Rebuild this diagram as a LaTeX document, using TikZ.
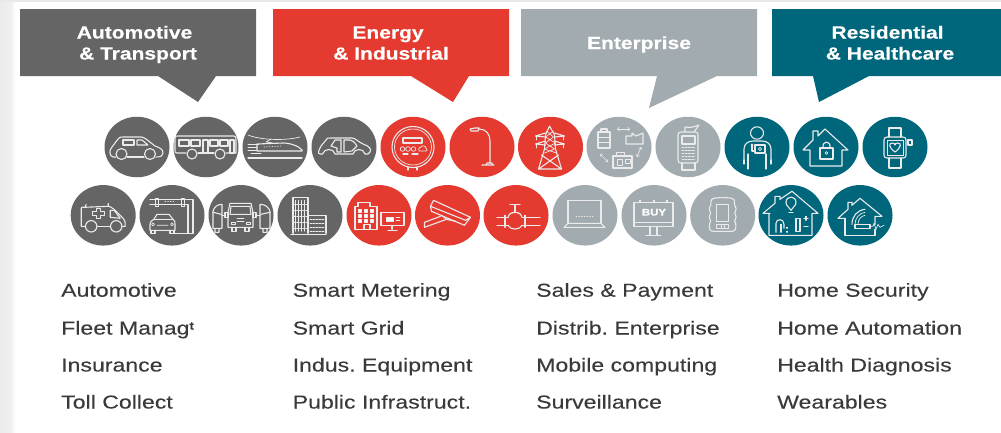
\documentclass[tikz,border=0pt]{standalone}
\usepackage{fontspec}
\usetikzlibrary{shapes.geometric}
\setmainfont{Liberation Sans}
\newfontfamily\bodyf[FakeStretch=1.235,FakeBold=0.12]{Liberation Sans}
\newfontfamily\headf[FakeStretch=1.2,FakeBold=0.35]{Liberation Sans Bold}
\definecolor{cgrey}{HTML}{656565}
\definecolor{cred}{HTML}{E53A2F}
\definecolor{clight}{HTML}{A2ABAF}
\definecolor{cteal}{HTML}{00667C}
\definecolor{ctext}{HTML}{3A3A3A}
\tikzset{
  dot/.style={ellipse,minimum width=65pt,minimum height=60.5pt,inner sep=0pt,draw=none},
  icon/.style={color=white!92!black,line width=1.1pt,line join=round,line cap=round},
  thin icon/.style={line width=0.7pt},
  head/.style={text=white,font=\headf\fontsize{17.5}{21.5}\selectfont\frenchspacing,anchor=base,inner sep=0pt},
  item/.style={text=ctext,font=\bodyf\fontsize{18.7}{22}\selectfont\frenchspacing,anchor=base west,inner sep=0pt},
}
\begin{document}
\begin{tikzpicture}[x=1pt,y=-1pt]
\useasboundingbox (0,0) rectangle (1001,432);
\fill[white] (0,0) rectangle (1001,432);
\fill[left color=black!8,right color=black!6] (0,0) rectangle (11,432);
\fill[left color=black!6,right color=white] (11,0) rectangle (15,432);
\fill[black!9] (0,0) rectangle (1001,2);
% callouts
\fill[cgrey] (20,9) -- (256,9) -- (256,76) -- (216,76) -- (198,102) -- (158,76) -- (20,76) -- cycle;
\fill[cred] (273,9) -- (509,9) -- (509,76) -- (469,76) -- (453,102) -- (411,76) -- (273,76) -- cycle;
\fill[clight] (521,9) -- (757,9) -- (757,76) -- (717,76) -- (649,108) -- (657,76) -- (521,76) -- cycle;
\fill[cteal] (772,9) -- (1001,9) -- (1001,76) -- (869,76) -- (819,102) -- (813,76) -- (772,76) -- cycle;
\node[head] (h1a) at (134.5,38.5) {Automotive};
\node[head] (h1b) at (138,59.5) {\& Transport};
\node[head] (h2a) at (388,38.5) {Energy};
\node[head] (h2b) at (391,59.5) {\& Industrial};
\node[head] (h3) at (639,49) {Enterprise};
\node[head] (h4a) at (887.5,38.5) {Residential};
\node[head] (h4b) at (890,59.5) {\& Healthcare};
% discs
\node[dot,fill=cgrey] (a1) at (137,147) {};
\node[dot,fill=cgrey] (a2) at (206,147) {};
\node[dot,fill=cgrey] (a3) at (275,147) {};
\node[dot,fill=cgrey] (a4) at (344,147) {};
\node[dot,fill=cred] (a5) at (413,147) {};
\node[dot,fill=cred] (a6) at (482,147) {};
\node[dot,fill=cred] (a7) at (550.5,147) {};
\node[dot,fill=clight] (a8) at (619,147) {};
\node[dot,fill=clight] (a9) at (688,147) {};
\node[dot,fill=cteal] (a10) at (757,147) {};
\node[dot,fill=cteal] (a11) at (826,147) {};
\node[dot,fill=cteal] (a12) at (895,147) {};
\node[dot,fill=cgrey] (b1) at (103.2,215.3) {};
\node[dot,fill=cgrey] (b2) at (172,215.3) {};
\node[dot,fill=cgrey] (b3) at (241,215.3) {};
\node[dot,fill=cgrey] (b4) at (310,215.3) {};
\node[dot,fill=cred] (b5) at (379,215.3) {};
\node[dot,fill=cred] (b6) at (447.5,215.3) {};
\node[dot,fill=cred] (b7) at (516,215.3) {};
\node[dot,fill=clight] (b8) at (585,215.3) {};
\node[dot,fill=clight] (b9) at (654,215.3) {};
\node[dot,fill=clight] (b10) at (722.7,215.3) {};
\node[dot,fill=cteal] (b11) at (791,215.3) {};
\node[dot,fill=cteal] (b12) at (860,215.3) {};
% car
\begin{scope}[shift={(a1.center)},icon]
\draw (-21,10) -- (-24,10) .. controls (-28,9) and (-28,3) .. (-25,0) -- (-19,-8) .. controls (-18,-10) and (-16,-10) .. (-14,-10) -- (4,-10) .. controls (7,-10) and (9,-8) .. (18,-1) .. controls (23,1) and (26,2) .. (26,6) .. controls (26,9) and (24,10) .. (19,10);
\draw (-10,10) -- (7,10);
\draw (-15.5,7) circle[radius=5.5];
\draw (13,7) circle[radius=5.5];
\draw (-14,-7) rectangle (-3,-2);
\draw (0,-7) -- (5,-7) -- (11,-2) -- (0,-2) -- cycle;
\end{scope}
% bus
\begin{scope}[shift={(a2.center)},icon]
\draw (-20,6) -- (-29,6) .. controls (-31,6) and (-31,5) .. (-31,3) -- (-31,-9) .. controls (-31,-11) and (-30,-11) .. (-28,-11) -- (28,-11) .. controls (30,-11) and (30,-9) .. (30,-7) -- (30,6) -- (20,6);
\draw (-8,6) -- (8,6);
\draw (-14,7) circle[radius=5];
\draw (14,7) circle[radius=5];
\draw (-27,-7) rectangle (-17,-1);
\draw (-15,-7) rectangle (-6,-1);
\draw (-3,-7) rectangle (2,6);
\draw (4,-7) rectangle (12,-1);
\draw (14,-7) rectangle (22,-1);
\draw (24,-7) rectangle (28,6);
\end{scope}
% train
\begin{scope}[shift={(a3.center)},icon]
\draw[thin icon] (-27,-12) .. controls (-15,-7) and (10,-6) .. (25,-10);
\draw[thin icon] (-4,-8) -- (-9,-5) -- (-2,-4);
\draw (-18,-3) -- (8,-4) .. controls (15,-4) and (24,-1) .. (27,3) -- (27,4) -- (-18,4) -- cycle;
\draw[thin icon] (-27,-3) -- (-16,-3) (-27,0) -- (-18,0) (-27,3) -- (-18,3) (-24,6) -- (-14,6);
\draw[thin icon,dotted] (-11,0) -- (6,-1);
\draw (-27,11) -- (27,11);
\end{scope}
% car body
\begin{scope}[shift={(a4.center)},icon]
\draw (-21.5,7) -- (-24,7) .. controls (-27,7) and (-25,3) .. (-23,-1) -- (-18,-7) .. controls (-17,-9) and (-16,-9) .. (-14,-9) -- (8,-9) .. controls (11,-9) and (13,-6) .. (19,-3) .. controls (25,-1) and (28,2) .. (26,5) -- (24,7) -- (21,7) .. controls (20,1) and (10,1) .. (9,7) -- (-9,7) .. controls (-10,1) and (-20,1) .. (-21.5,7);
\draw (-9,-7) -- (-3,-7) -- (-3,5) -- (-7,5) -- (-7,1) -- (-13,-1) -- cycle;
\draw (0,-7) -- (6,-7) .. controls (10,-6) and (12,-3) .. (13,-1) -- (8,4) -- (0,5) -- cycle;
\end{scope}
% meter
\begin{scope}[shift={(a5.center)},icon]
\draw (0,0) ellipse[x radius=21,y radius=20.5];
\draw[thin icon] (0,0) ellipse[x radius=18.5,y radius=18];
\draw (-10,-9) rectangle (9,-4);
\draw[thin icon] (-10.5,2) circle[radius=2.3] (-5,2) circle[radius=2.3] (0.5,2) circle[radius=2.3];
\draw[thin icon] (6,4) .. controls (5,1) and (7,0) .. (8,0) .. controls (9,-2) and (13,-1) .. (13,1) .. controls (15,2) and (14,4) .. (13,4) -- cycle;
\draw (-10,7) -- (-5,7) (-1,7) -- (5,7);
\draw (-5,20) -- (-5,23) (4,20) -- (4,23);
\end{scope}
% lamp
\begin{scope}[shift={(a6.center)},icon]
\draw (-12,-18) -- (-7,-19) -- (-3,-19) -- (-4,-16) -- (-11,-16) -- cycle;
\draw (-3,-18) .. controls (4,-18) and (8,-13) .. (8,-6) -- (8,16);
\draw (0,18) -- (12,18) (4,18) -- (5,16) -- (10,16) -- (11,18);
\end{scope}
% pylon
\begin{scope}[shift={(a7.center)},icon]
\draw (-1,-21) -- (-5,-12) -- (-6,2) -- (-12,22) (-1,-21) -- (4,-12) -- (5,2) -- (11,22);
\draw[thin icon] (-4,-16) -- (3,-10) -- (-5,-4) -- (4,2) -- (-6,6) (3,-16) -- (-5,-10) -- (5,-4) -- (-6,2) -- (6,6);
\draw (-12,22) -- (8,8) (11,22) -- (-9,8) (-12,22) -- (11,22);
\draw (-15,-11) -- (-5,-14) (-15,-11) -- (-5,-10) (14,-11) -- (4,-14) (14,-11) -- (4,-10);
\draw (-15,-3) -- (-5,-6) (-15,-3) -- (-5,-2) (14,-3) -- (4,-6) (14,-3) -- (4,-2);
\draw[thin icon] (-14,-11) -- (-14,-7) (13,-11) -- (13,-7) (-14,-3) -- (-14,1) (13,-3) -- (13,1);
\end{scope}
% network
\begin{scope}[shift={(a8.center)},icon]
\draw (-21,-15) rectangle (-9,1);
\draw (-18,-15) -- (-18,-18) -- (-12,-18) -- (-12,-15);
\draw[thin icon] (-21,-10) -- (-9,-10) (-21,-5) -- (-9,-5);
\draw[thin icon,<->,>=to] (-2,-18) -- (11,-18);
\draw (7,-3) -- (7,-11) -- (13,-11) -- (13,-14) -- (17,-11) -- (24,-14) -- (24,-3) -- cycle;
\draw[thin icon,<->,>=to] (-19,7) -- (-11,15);
\draw (-6,9) rectangle (13,21);
\draw[thin icon] (-3,5) rectangle (5,9) (-2,12) rectangle (3,18) (6,12) rectangle (11,16);
\draw[thin icon,<->,>=to] (18,10) -- (22,0);
\end{scope}
% pos terminal
\begin{scope}[shift={(a9.center)},icon]
\draw (-7,-15) -- (7,-15) .. controls (9,-15) and (10,-14) .. (10,-12) -- (10,13) .. controls (10,15) and (9,16) .. (7,16) -- (-7,16) .. controls (-9,16) and (-10,15) .. (-10,13) -- (-10,-12) .. controls (-10,-14) and (-9,-15) .. (-7,-15) -- cycle;
\draw (-3,-15) -- (-3,-20) .. controls (2,-19) and (6,-20) .. (11,-22) -- (6,-15);
\draw (-6,-11) rectangle (7,-3);
\draw[thin icon,dash pattern=on 2pt off 1.2pt] (-6,0) -- (7,0) (-6,3) -- (7,3) (-6,6) -- (7,6) (-6,9) -- (7,9) (-6,12) -- (7,12);
\draw (-6,16) -- (-6,23) -- (7,23) -- (7,16);
\end{scope}
% person
\begin{scope}[shift={(a10.center)},icon]
\draw (0,-14) ellipse[x radius=6.5,y radius=6.2];
\draw (-13,13) -- (-13,2) .. controls (-13,-3) and (-9,-6) .. (-4,-6) -- (5,-6) .. controls (10,-6) and (14,-3) .. (14,2) -- (14,13);
\draw (-9,22) -- (-9,7) (9,22) -- (9,7) (-13,13) -- (-13,17) (14,13) -- (14,17);
\draw (-2,-2) rectangle (8,6);
\draw[thin icon] (3,2) circle[radius=1.7];
\draw (-2,4) -- (-5,4) -- (-5,-2);
\draw (-5,-2) circle[radius=0.9];
\end{scope}
% house lock
\begin{scope}[shift={(a11.center)},icon]
\draw (-16,3) -- (-23,3) -- (-13,-7) -- (-13,-16) -- (-8,-16) -- (-8,-11) -- (-1,-18) -- (22,3) -- (16,3) -- (16,19) -- (-16,19) -- cycle;
\draw (-6,1) rectangle (7,12);
\draw (-3,1) .. controls (-4,-7) and (5,-7) .. (4,1);
\draw[thin icon] (0.5,6) circle[radius=1.3];
\end{scope}
% watch
\begin{scope}[shift={(a12.center)},icon]
\draw (-8,-10) -- (8,-10) .. controls (10,-10) and (11,-9) .. (11,-7) -- (11,8) .. controls (11,10) and (10,11) .. (8,11) -- (-8,11) .. controls (-10,11) and (-11,10) .. (-11,8) -- (-11,-7) .. controls (-11,-9) and (-10,-10) .. (-8,-10) -- cycle;
\draw[thin icon] (-8,-7) rectangle (8,8);
\draw (-6,-10) -- (-6,-19) -- (6,-19) -- (6,-10) (-6,11) -- (-6,21) -- (6,21) -- (6,11);
\draw (13,-7) rectangle (17,-2);
\draw (0,5) .. controls (-7,0) and (-6,-4) .. (-3,-4) .. controls (-1,-4) and (0,-3) .. (0,-2) .. controls (0,-3) and (1,-4) .. (3,-4) .. controls (6,-4) and (7,0) .. (0,5) -- cycle;
\end{scope}
% ambulance
\begin{scope}[shift={(b1.center)},icon]
\draw (-18,11) -- (-22,11) -- (-22,-7) .. controls (-22,-8) and (-21,-9) .. (-19,-8) -- (5,-9) .. controls (8,-9) and (11,-6) .. (20,3) .. controls (22,5) and (22,7) .. (22,11) -- (19,11);
\draw (-6,11) -- (7,11);
\draw (-12,11) circle[radius=5.7];
\draw (13,11) circle[radius=5.7];
\draw (-7,-7) -- (-3,-7) -- (-3,-4) -- (1,-4) -- (1,0) -- (-3,0) -- (-3,3) -- (-7,3) -- (-7,0) -- (-11,0) -- (-11,-4) -- (-7,-4) -- cycle;
\draw (7,-5) -- (11,-5) -- (17,3) -- (7,2) -- cycle;
\draw (-18,-8) -- (-17,-11) (5,-9) -- (5,-12);
\end{scope}
% toll gantry
\begin{scope}[shift={(b2.center)},icon]
\draw (-22,-16) -- (21,-16) -- (21,18) -- (2,18);
\draw (-22,-11) -- (16,-11) -- (16,18);
\draw[thin icon] (-17,-17) rectangle (-14,-9) (9,-17) rectangle (12,-9);
\draw[thin icon,dotted] (-7,-14) -- (2,-14);
\draw (-18,4) -- (-15,-1) -- (-3,-1) -- (1,4) .. controls (3,5) and (3,7) .. (3,9) -- (3,15) -- (-22,15) -- (-22,9) .. controls (-22,7) and (-21,5) .. (-18,4) -- cycle;
\draw (-18,4) -- (0,4);
\draw[thin icon] (-19,9) circle[radius=1.5] (0,9) circle[radius=1.5] (-15,10) -- (-4,10);
\draw (-21,15) -- (-21,18) -- (-17,18) -- (-17,15) (-2,15) -- (-2,18) -- (2,18) -- (2,15);
\end{scope}
% trucks
\begin{scope}[shift={(b3.center)},icon]
\draw (-11,-12) -- (10,-12) -- (12,-3) -- (12,12) -- (-13,12) -- (-13,-3) -- cycle;
\draw (-10,-9) -- (9,-9) -- (10,-1) -- (-11,-1) -- cycle;
\draw (-9,12) -- (-9,16) -- (-5,16) -- (-5,12) (4,12) -- (4,16) -- (8,16) -- (8,12);
\draw[thin icon] (-10,7) rectangle (-6,9) (5,7) rectangle (9,9) (-4,3) -- (3,3) (-4,6) -- (3,6);
\draw (-16,-3) rectangle (-13,2) (15,-3) rectangle (12,2);
\draw (-19,-11) .. controls (-24,-11) and (-27,-8) .. (-28,-4) -- (-28,13) -- (-19,13) -- (-19,4) -- (-19,-11);
\draw (-28,-3) -- (-20,-1) (-22,13) -- (-22,17) -- (-26,17) -- (-26,13);
\draw (-16,0) -- (-19,0);
\draw (19,-11) .. controls (24,-11) and (28,-8) .. (29,-4) -- (29,13) -- (19,13) -- (19,-11);
\draw (29,-3) -- (20,-1) (22,13) -- (22,17) -- (26,17) -- (26,13);
\draw (15,0) -- (19,0);
\end{scope}
% buildings
\begin{scope}[shift={(b4.center)},icon]
\draw (-17,18) -- (-17,-18) -- (-2,-18) -- (-2,18);
\draw (-2,0) -- (16,0) -- (16,18);
\draw (-19,19) -- (16,19);
\draw[thin icon] (-14.5,-15) -- (-14.5,16) (-11.5,-15) -- (-11.5,16) (-8.5,-15) -- (-8.5,16) (-5.5,-15) -- (-5.5,16);
\draw[thin icon,dash pattern=on 2pt off 1pt] (-16,-11) -- (-3,-11) (-16,-5) -- (-3,-5) (-16,1) -- (-3,1) (-16,7) -- (-3,7) (-16,13) -- (-3,13);
\draw[thin icon,dash pattern=on 2pt off 1pt] (0,4) -- (15,4) (0,8) -- (15,8) (0,12) -- (15,12) (0,16) -- (15,16);
\end{scope}
% office + monitor
\begin{scope}[shift={(b5.center)},icon]
\draw (-24,14) -- (-24,-9) -- (-21,-9) -- (-21,-13) -- (-9,-13) -- (-9,-9) -- (-2,-9) -- (-2,14) -- cycle;
\foreach \i in {-21,-15,-9} \foreach \j in {-6,-1,4} \draw[thin icon,fill=white] (\i,\j) rectangle ++(3,3);
\draw (-15,14) -- (-15,9) -- (-9,9) -- (-9,14);
\draw (2,-3) rectangle (25,10);
\draw (13,10) -- (13,14) (9,15) -- (18,15);
\draw[thin icon,fill=white] (7,2) rectangle (14,6);
\draw[thin icon] (17,2) -- (21,2) (17,5) -- (21,5);
\end{scope}
% camera
\begin{scope}[shift={(b6.center)},icon]
\draw (-17,-9) -- (-14,-15) -- (23,2) -- (17,10) -- (-16,-4) -- cycle;
\draw (-17,-9) -- (18,5) (18,5) -- (23,2);
\draw (-7,1) -- (-23,7) -- (-23,12) -- (-1,4);
\draw (-6,0) -- (-1,4) -- (8,6);
\end{scope}
% valve
\begin{scope}[shift={(b7.center)},icon]
\draw (-6,-11) -- (4,-11) (-1,-11) -- (-1,-3);
\draw (-4,-3) -- (2,-3);
\draw (-8,2) .. controls (-7,-2) and (-4,-3) .. (-1,-3) .. controls (2,-3) and (5,-2) .. (6,2) (-8,10) .. controls (-6,15) and (4,15) .. (6,10);
\draw (-19,2) -- (-8,2) (6,2) -- (24,2) (-19,10) -- (-8,10) (6,10) -- (24,10);
\draw (-11,0) -- (-11,12) (9,0) -- (9,12);
\end{scope}
% laptop
\begin{scope}[shift={(b8.center)},icon]
\draw (-17,8) -- (-17,-15) -- (16,-15) -- (16,8);
\draw (-17,8) -- (16,8) -- (20,12) -- (-21,12) -- cycle;
\draw[thin icon,dotted,line width=0.9pt] (-9,1) -- (9,1);
\end{scope}
% billboard
\begin{scope}[shift={(b9.center)},icon]
\draw (-20,-13) rectangle (19,11);
\draw[thin icon] (-20,7) -- (19,7);
\draw (-14,-13) -- (-14,-15) (13,-13) -- (13,-15) (0,-13) -- (0,-15);
\draw (-4,11) -- (-4,20) (3,11) -- (3,20) (-8,20) -- (7,20);
\node[text=white,inner sep=0pt,font=\headf\fontsize{9.5}{10}\selectfont] (buy) at (0,-3) {BUY};
\end{scope}
% rugged device
\begin{scope}[shift={(b10.center)},icon]
\draw (-9,-17) .. controls (-3,-18) and (3,-18) .. (9,-17) .. controls (14,-16) and (10,-11) .. (13,-8) .. controls (15,-5) and (10,-3) .. (13,0) .. controls (15,3) and (10,5) .. (13,8) .. controls (14,14) and (12,16) .. (9,16) -- (-9,16) .. controls (-13,16) and (-14,14) .. (-13,8) .. controls (-10,5) and (-15,3) .. (-13,0) .. controls (-10,-3) and (-15,-5) .. (-13,-8) .. controls (-10,-11) and (-14,-16) .. (-9,-17) -- cycle;
\draw (-6,-11) rectangle (6,6);
\draw[thin icon] (-6,9) rectangle (6,13);
\draw[thin icon] (-1.5,9) -- (-1.5,13) (1.5,9) -- (1.5,13);
\end{scope}
% smart home
\begin{scope}[shift={(b11.center)},icon]
\draw (-21,-2) -- (-28,-2) -- (-16,-12) -- (-16,-19) -- (-11,-19) -- (-11,-16) -- (1,-24) -- (27,-2) -- (21,-2) -- (21,20) -- (-22,20) -- (-22,-2);
\draw (0,-5) .. controls (-1,-8) and (-5,-9) .. (-5,-13) .. controls (-5,-20) and (5,-20) .. (5,-13) .. controls (5,-9) and (1,-8) .. (0,-5) -- cycle;
\draw (-2,-3) -- (2,-3);
\draw (-15,17) -- (-15,8) .. controls (-15,3) and (-7,3) .. (-7,9) -- (-7,13);
\draw (-10,17) -- (-10,9);
\draw (-4,12) -- (-4,13) (-4,16) -- (-4,17);
\draw (5,3) rectangle (9,16);
\draw (13,3) -- (17,3) (15,1) -- (15,5) (13,11) -- (17,11);
\end{scope}
% wireless home
\begin{scope}[shift={(b12.center)},icon]
\draw (-15,3) -- (-22,3) -- (-12,-6) -- (-12,-13) -- (-8,-13) -- (-8,-10) -- (0,-17) -- (22,1) -- (15,1) -- (15,9);
\draw (15,14) -- (15,20) -- (-15,20) -- (-15,3);
\draw (-8,9) .. controls (-8,1) and (-3,-5) .. (5,-6);
\draw[thin icon] (-5,9) .. controls (-5,3) and (-1,-2) .. (5,-3) (-2,9) .. controls (-2,4) and (1,1) .. (5,0);
\draw (-5,9) rectangle (10,13);
\draw[thin icon] (10,11) -- (13,11) -- (14,8) -- (16,14) -- (18,9) -- (20,12) -- (24,10);
\end{scope}
% lists
\node[item] (t11) at (61,296.7) {Automotive};
\node[item] (t12) at (61,334.5) {Fleet Manag\raisebox{0.5ex}{\headf\fontsize{11}{11}\selectfont t}};
\node[item] (t13) at (61,371.5) {Insurance};
\node[item] (t14) at (61,408.5) {Toll Collect};
\node[item] (t21) at (292.5,296.7) {Smart Metering};
\node[item] (t22) at (292.5,334.5) {Smart Grid};
\node[item] (t23) at (292.5,371.5) {Indus. Equipment};
\node[item] (t24) at (292.5,408.5) {Public Infrastruct.};
\node[item] (t31) at (536,296.7) {Sales \& Payment};
\node[item] (t32) at (536,334.5) {Distrib. Enterprise};
\node[item] (t33) at (536,371.5) {Mobile computing};
\node[item] (t34) at (536,408.5) {Surveillance};
\node[item] (t41) at (777,296.7) {Home Security};
\node[item] (t42) at (777,334.5) {Home Automation};
\node[item] (t43) at (777,371.5) {Health Diagnosis};
\node[item] (t44) at (777,408.5) {Wearables};
\end{tikzpicture}
\end{document}
